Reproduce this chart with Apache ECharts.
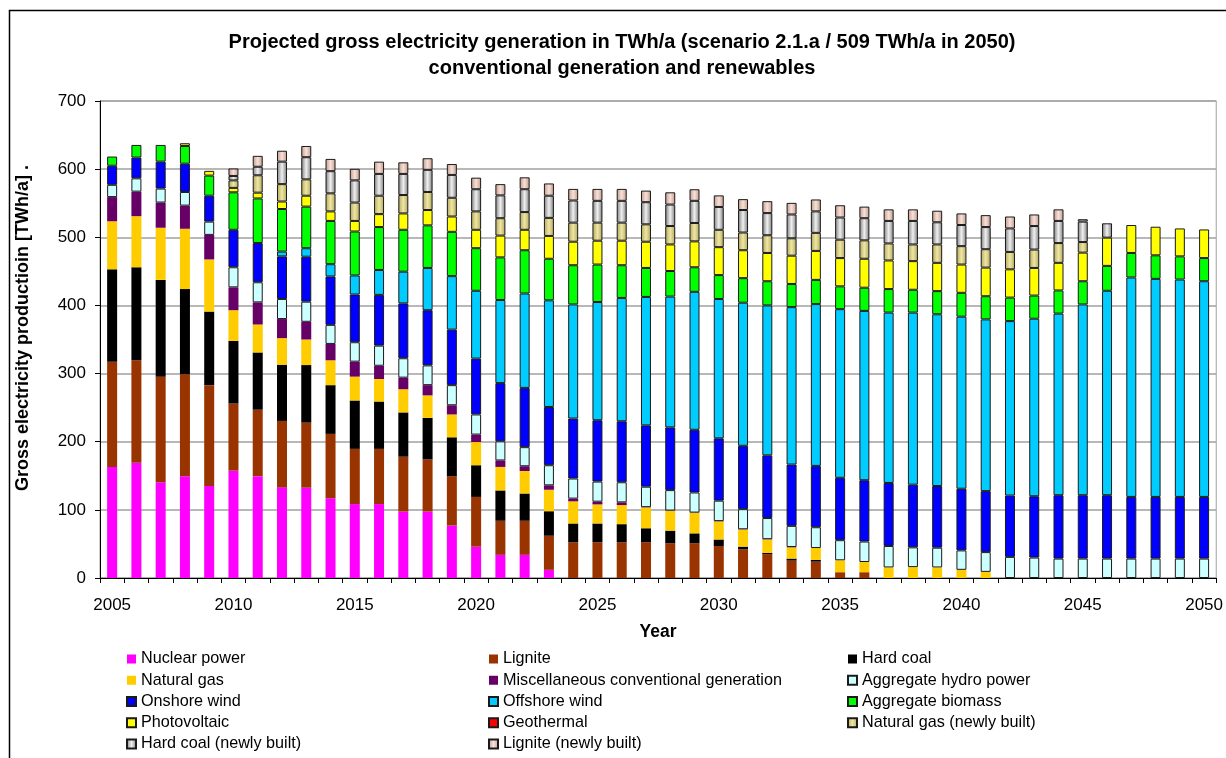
<!DOCTYPE html>
<html>
<head>
<meta charset="utf-8">
<script src="https://cdn.jsdelivr.net/npm/echarts@6/dist/echarts.min.js"></script>
<style>
html,body{margin:0;padding:0;background:#fff;}
#chart{width:1226px;height:758px;}
</style>
</head>
<body>
<div id="chart"></div>
<script>
// ---- Data (TWh/a), years 2005..2050 ----
const years = [];
for (let y = 2005; y <= 2050; y++) years.push(String(y));

const nuclear = [163,169,140.5,149.5,135,157.5,149.5,133,132.5,117,108.5,108.5,97.5,97.5,77,46,34,34,12,
  0,0,0,0,0,0,0,0,0,0,0,0,0,0,0,0,0,0,0,0,0,0,0,0,0,0,0];
const lignite = [154.5,150.5,155,149.5,148,98.5,97.5,97.5,95.5,94.5,81,81,80.5,76.5,72.5,73,50,50,50,
  52.5,52.5,52.5,52.5,51,51,47,42,35,25.5,24,8.5,8.5,0,0,0,0,0,0,0,0,0,0,0,0,0,0];
const hardCoal = [135.5,136.5,142,125,108,92,84,82.5,84.5,71.5,71,69.5,65,61,57,46.5,44.5,40,36,
  27.5,27.5,26.5,20.5,18.5,14.5,9.5,4,2,3,2.5,0,0,0,0,0,0,0,0,0,0,0,0,0,0,0,0];
const naturalGas = [70.5,75,76.5,88.5,76.5,45,41,39,37.5,36.5,35,33,34,33,33.5,34,34.5,33,31.5,
  32.5,28,28,30.5,29,30,26.5,25,19.5,16.5,17.5,17.5,15,15.5,16,15.5,12,9,0,0,0,0,0,0,0,0,0];
const miscConv = [35.5,36,37,34,36,33.5,32.5,28,26,24,22,19.5,17,15,13.5,11,9.5,7,6.5,
  4,4,4,0.5,0.5,0.5,0.5,0.5,0.5,0.5,0,0,0,0,0,0,0,0,0,0,0,0,0,0,0,0,0];
const hydro = [18,19.5,20.5,20,19.5,29.5,29.5,29.5,29.5,28,28.5,29.5,28.5,29,29.5,29.5,28,28,29.5,
  29.5,29.5,29.5,30,30,29.5,30,29.5,31,31,30.5,29.5,30,31.5,29,29,28.5,29,31,30,28.5,
  28.5,28.5,28.5,28.5,28.5,28.5];
const onshore = [28,30.5,39.5,41.5,38,55,57.5,62.5,66,71,
  70,74.5,80.5,81,81.5,82,85.5,87,85.5,88,
  90,89.5,90,92,92,91.5,93,92,90,90,
  91.5,90,92.5,92,90.5,90.5,89.5,90,90,93,
  93,93,90.5,90.5,90.5,90.5];
const offshore = [0,0,0,0,0,0,0,7,12.5,18,28,36.5,46.5,62,78.5,99.5,122,138.5,156.5,
  167.5,173.5,181,188.5,192,202.5,204.5,210,220,231,237.5,247.5,248.5,250,252.5,252,252.5,
  252,256,260.5,266.5,280,300,322,320,319,316.5];
const biomass = [13.5,18.5,24.5,26,29.5,55,65.5,62.5,61,63.5,64.5,63,61.5,62.5,65,62.5,
  62.5,63.5,61,57.5,55,48,42.5,37.5,36,35,
  36,35.5,34,35.5,33.5,34,34.5,33.5,34,35,
  34,34.5,34,34,34,36.5,36,34.5,34,34];
const photovoltaic = [0,0,0,4,7,6.5,8.5,11,16,14,
  15.5,19,24,22.5,22.5,27,32,30,33.5,34.5,
  35,36,38.5,39,38,41,41,41.5,41.5,42.5,
  41.5,42.5,42,42,41.5,41.5,42,41.5,40.5,40.5,
  42,41.5,41,42,41,42];
const geothermal = [0,0,0,0,0,0,0,0,0,0,0,0,0,0,0,0,0,0,0,0,0,0,0,0,0,0,0,0,0,0,0,0,0,0,0,0,0,0,0,0,0,0,0,0,0,0];
const gasNew = [0,0,0,0,0,11,25.5,25.5,24,26.5,27,27,27,26.5,27.5,27,25.5,26,26.5,28,
  26.5,26.5,25.5,27,27,25.5,26,26,25.5,26.5,27,27,25,24.5,27,27,27,25.5,27,29,15.5,0,0,0,0,0];
const hardCoalNew = [0,0,0,0,0,6.5,12.5,33,32.5,32.5,32.5,32,31,32.5,33.5,32.5,33.5,33.5,32.5,32.5,
  32,32,32.5,31.5,32.5,33.5,33,32.5,35,31.5,32.5,32.5,33,34.5,32.5,31,32.5,34.5,34.5,32.5,30,21,0,0,0,0];
const ligniteNew = [0,0,0,0,0,11,16,16,16.5,18,17,18,17,17,16,17,16.5,17.5,18,17,
  17.5,17.5,17,18,17,17,16,17.5,17,17.5,18,17,17,17,17,17,17.5,17.5,17,17,3.5,0,0,0,0,0];

const yTicks = [0,100,200,300,400,500,600,700];

const titleLines = ['Projected gross electricity generation in TWh/a (scenario 2.1.a / 509 TWh/a in 2050)',
                    'conventional generation and renewables'];
const yAxisTitle = 'Gross electricity productioin [TWh/a] .';
const xAxisTitle = 'Year';

// ---- Styling ----
const G = echarts.graphic.LinearGradient;
function grad(side, mid) {
  return new G(0, 0, 1, 0, [{offset:0,color:side},{offset:0.5,color:mid},{offset:1,color:side}]);
}
const seriesDefs = [
  {name:'Nuclear power', data:nuclear, color:'#FF00FF', border:false},
  {name:'Lignite', data:lignite, color:'#993300', border:false},
  {name:'Hard coal', data:hardCoal, color:'#000000', border:false},
  {name:'Natural gas', data:naturalGas, color:'#FFCC00', border:false},
  {name:'Miscellaneous conventional generation', data:miscConv, color:'#660066', border:false},
  {name:'Aggregate hydro power', data:hydro, color:'#CCFFFF', border:true},
  {name:'Onshore wind', data:onshore, color:'#0000FF', border:true},
  {name:'Offshore wind', data:offshore, color:'#00CCFF', border:true},
  {name:'Aggregate biomass', data:biomass, color:'#00FF00', border:true},
  {name:'Photovoltaic', data:photovoltaic, color:'#FFFF00', border:true},
  {name:'Geothermal', data:geothermal, color:'#FF0000', border:true},
  {name:'Natural gas (newly built)', data:gasNew, color:grad('#b3a658','#ede6a6'), border:true},
  {name:'Hard coal (newly built)', data:hardCoalNew, color:grad('#7c7c7c','#f0f0f0'), border:true},
  {name:'Lignite (newly built)', data:ligniteNew, color:grad('#c49888','#f6e2da'), border:true}
];

const FONT = 'Arial, "Liberation Sans", sans-serif';

const series = seriesDefs.map(d => ({
  name: d.name,
  type: 'bar',
  stack: 'total',
  barWidth: 10,
  data: d.data.map(v => v === 0 ? '-' : v),
  itemStyle: {
    color: d.color,
    borderColor: d.border ? '#1a1a1a' : d.color,
    borderWidth: d.border ? 1 : 0
  },
  emphasis: {disabled: true}
}));

const legendCols = [
  ['Nuclear power','Natural gas','Onshore wind','Photovoltaic','Hard coal (newly built)'],
  ['Lignite','Miscellaneous conventional generation','Offshore wind','Geothermal','Lignite (newly built)'],
  ['Hard coal','Aggregate hydro power','Aggregate biomass','Natural gas (newly built)']
];
const legendLeft = [126, 488, 847];

const option = {
  animation: false,
  backgroundColor: '#ffffff',
  title: {
    text: titleLines.join('\n'),
    left: 622,
    textAlign: 'center',
    top: 29,
    padding: 0,
    textStyle: {fontFamily: FONT, fontSize: 20, fontWeight: 'bold', color: '#000', lineHeight: 26}
  },
  legend: legendCols.map((col, i) => ({
    data: col,
    orient: 'vertical',
    left: legendLeft[i],
    top: 651,
    padding: 0,
    itemWidth: 9,
    itemHeight: 9,
    itemGap: 5.25,
    icon: 'rect',
    selectedMode: false,
    textStyle: {fontFamily: FONT, fontSize: 16.2, color: '#000', lineHeight: 16}
  })),
  grid: {left: 100, right: 9, top: 101, bottom: 180, show: true, borderColor: '#a0a0a0', borderWidth: 1},
  xAxis: {
    type: 'category',
    data: years,
    boundaryGap: true,
    name: xAxisTitle,
    nameLocation: 'middle',
    nameGap: 45,
    nameTextStyle: {fontFamily: FONT, fontSize: 17.5, fontWeight: 'bold', color: '#000'},
    axisLine: {lineStyle: {color: '#000', width: 1}},
    axisTick: {show: true, interval: 0, alignWithLabel: false, length: 5, lineStyle: {color: '#000'}},
    axisLabel: {interval: 4, fontFamily: FONT, fontSize: 17, color: '#000', margin: 19},
    splitLine: {show: false}
  },
  yAxis: {
    type: 'value',
    min: yTicks[0],
    max: yTicks[yTicks.length - 1],
    interval: 100,
    axisLine: {show: true, lineStyle: {color: '#000', width: 1}},
    axisTick: {show: true, length: 5, lineStyle: {color: '#000'}},
    axisLabel: {fontFamily: FONT, fontSize: 17, color: '#000', margin: 14},
    splitLine: {show: true, lineStyle: {color: '#a0a0a0', width: 1.5}}
  },
  graphic: [
    {type: 'rect', left: 7, top: 8, silent: true, z: -10,
     shape: {width: 1240, height: 770}, style: {fill: 'none', stroke: '#000', lineWidth: 1.5}},
    {type: 'text', x: 23, y: 328, rotation: Math.PI / 2, silent: true,
     style: {text: yAxisTitle, fontFamily: FONT, fontSize: 18, fontWeight: 'bold', fill: '#000',
             textAlign: 'center', textVerticalAlign: 'middle'}}
  ],
  series: series
};

const chart = echarts.init(document.getElementById('chart'), null, {renderer: 'canvas'});
chart.setOption(option);
</script>
</body>
</html>
